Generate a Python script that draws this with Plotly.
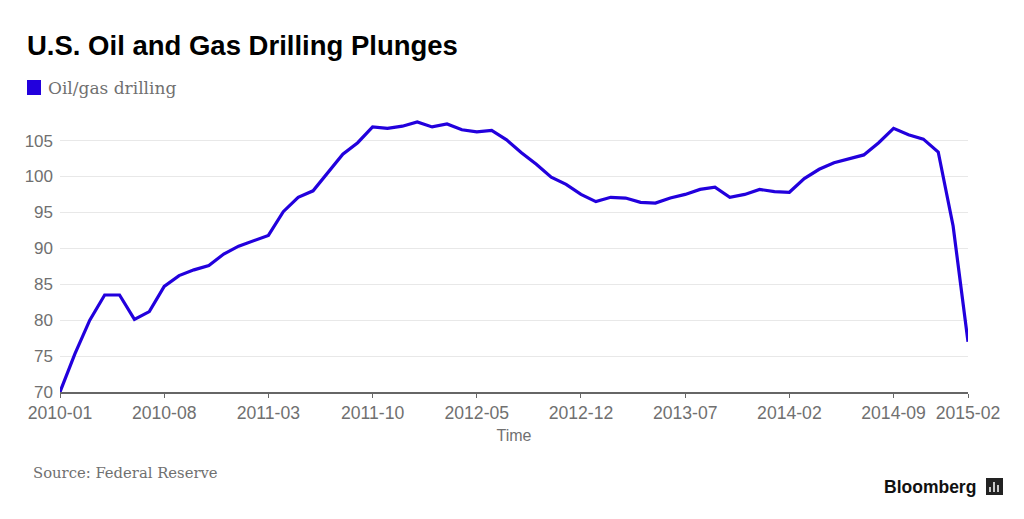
import pandas as pd
import plotly.graph_objects as go

# monthly index, Jan 2010 .. Feb 2015
months = [p.strftime("%Y-%m") for p in pd.period_range("2010-01", "2015-02", freq="M")]

drilling = [
    70.0, 75.3, 80.0, 83.5, 83.5, 80.1, 81.2, 84.7, 86.2, 87.0, 87.6, 89.2,
    90.3, 91.0, 91.8, 95.1, 97.1, 98.0, 100.6, 103.1, 104.7, 106.9, 106.7, 107.0,
    107.6, 106.9, 107.3, 106.5, 106.2, 106.4, 105.1, 103.3, 101.7, 99.9, 98.9, 97.5,
    96.5, 97.1, 97.0, 96.4, 96.3, 97.0, 97.5, 98.2, 98.5, 97.1, 97.5, 98.2,
    97.9, 97.8, 99.7, 101.0, 101.9, 102.4, 103.0, 104.7, 106.7, 105.8, 105.2, 103.4,
    93.1, 77.0,
]

x_ticks = ["2010-01", "2010-08", "2011-03", "2011-10", "2012-05", "2012-12",
           "2013-07", "2014-02", "2014-09", "2015-02"]
y_ticks = [70, 75, 80, 85, 90, 95, 100, 105]

BLUE = "#2200dd"
GREY = "#707070"
SANS = "Liberation Sans, Arial, sans-serif"
SERIF = "DejaVu Serif, serif"

# the page has an 8px body margin, so the figure is drawn 8px in from the corner
W, H = 1016, 511


def px(x):  # page pixel -> paper x (plot area spans 60..968)
    return (x - 60) / 908


def py(y):  # page pixel -> paper y (plot area spans 392..119)
    return (392 - y) / 273


fig = go.Figure()
fig.add_trace(go.Scatter(x=months, y=drilling, mode="lines", name="Oil/gas drilling",
                         line=dict(color=BLUE, width=3.2), showlegend=False))

fig.update_layout(
    width=W, height=H,
    margin=dict(l=52, r=56, t=111, b=127),
    paper_bgcolor="white", plot_bgcolor="white",
    title=dict(text="<b>U.S. Oil and Gas Drilling Plunges</b>",
               font=dict(family=SANS, size=27.5, color="#000000"),
               x=19 / W, xanchor="left", y=1 - 37 / H, yanchor="middle"),
    xaxis=dict(type="category", range=[0, len(months) - 1],
               tickvals=x_ticks, ticktext=x_ticks,
               showgrid=False, showline=True, linecolor="#666666", linewidth=2,
               ticks="outside", ticklen=4, tickcolor="#666666",
               tickfont=dict(family=SANS, size=17.6, color=GREY),
               title=dict(text="Time", standoff=8,
                          font=dict(family=SANS, size=16, color=GREY))),
    yaxis=dict(range=[70, 108], tickvals=y_ticks, showgrid=True, gridcolor="#e8e8e8",
               zeroline=False, ticks="", ticklabelstandoff=6,
               tickfont=dict(family=SANS, size=17, color=GREY)),
    annotations=[
        dict(text="Oil/gas drilling", xref="paper", yref="paper",
             x=px(46), y=py(88), xanchor="left", yanchor="middle", showarrow=False,
             font=dict(family=SERIF, size=17, color=GREY)),
        dict(text="Source: Federal Reserve", xref="paper", yref="paper",
             x=px(31), y=py(472), xanchor="left", yanchor="middle", showarrow=False,
             font=dict(family=SERIF, size=14.8, color=GREY)),
        dict(text="<b>Bloomberg</b>", xref="paper", yref="paper",
             x=px(978), y=py(487), xanchor="right", yanchor="middle", showarrow=False,
             font=dict(family=SANS, size=17.5, color="#111111")),
    ],
    shapes=[
        # legend swatch
        dict(type="rect", xref="paper", yref="paper",
             x0=px(27), x1=px(41), y0=py(95), y1=py(80),
             fillcolor=BLUE, line=dict(width=0)),
        # logo mark
        dict(type="rect", xref="paper", yref="paper",
             x0=px(986), x1=px(1003), y0=py(495), y1=py(478),
             fillcolor="#222222", line=dict(width=0)),
        dict(type="line", xref="paper", yref="paper", x0=px(990), x1=px(990),
             y0=py(492), y1=py(487), line=dict(color="white", width=1.5)),
        dict(type="line", xref="paper", yref="paper", x0=px(994), x1=px(994),
             y0=py(492), y1=py(482), line=dict(color="white", width=1.5)),
        dict(type="line", xref="paper", yref="paper", x0=px(998), x1=px(998),
             y0=py(492), y1=py(485), line=dict(color="white", width=1.5)),
    ],
)

fig.write_html("out.html")
